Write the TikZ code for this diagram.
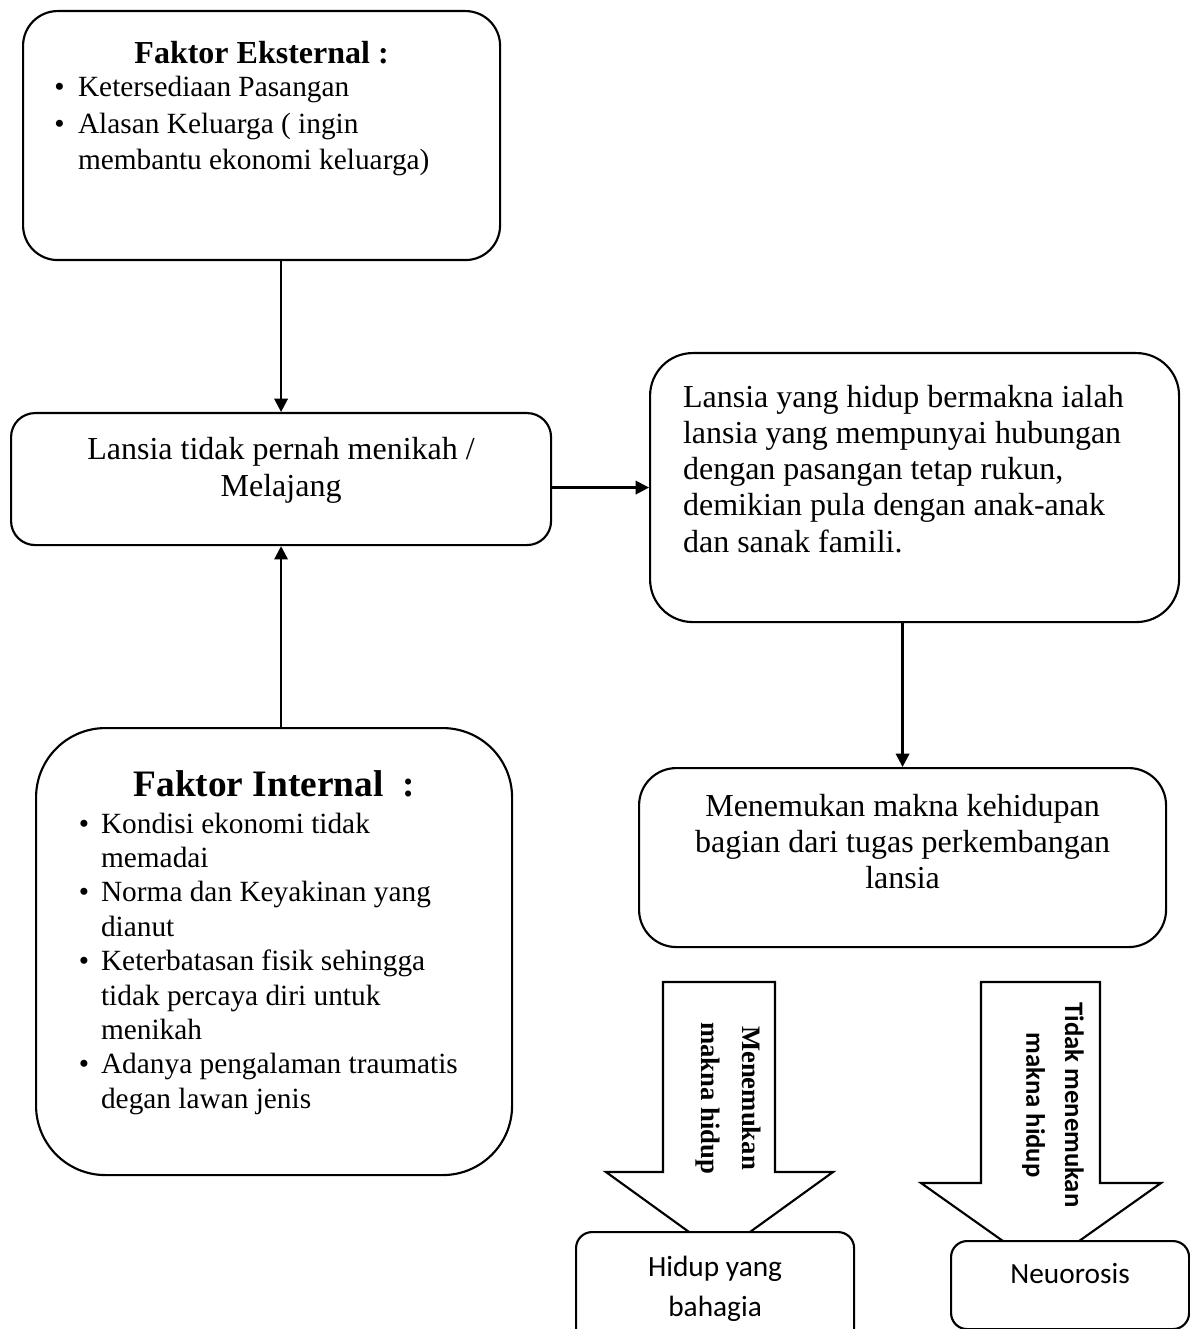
\documentclass[tikz,border=0pt]{standalone}
\usepackage{fontspec}
\setmainfont{Liberation Serif}
\setsansfont{Carlito}
\usetikzlibrary{arrows.meta, calc}
\newlength{\pxu}
\setlength{\pxu}{0.375pt}
\newcommand{\isi}[3]{\begin{minipage}[t][#2\pxu][t]{#1\pxu}#3\end{minipage}}
\newcommand{\atas}[1]{\rule{0pt}{#1\pxu}}
\newenvironment{daftar}[2]{\begin{list}{\textbullet}{%
  \setlength{\leftmargin}{#1\pxu}\setlength{\labelsep}{#2pt}%
  \setlength{\labelwidth}{\leftmargin}\addtolength{\labelwidth}{-\labelsep}%
  \setlength{\topsep}{0pt}\setlength{\partopsep}{0pt}%
  \setlength{\itemsep}{0pt}\setlength{\parsep}{0pt}\setlength{\rightmargin}{0pt}}}%
  {\end{list}}

\begin{document}
\begin{tikzpicture}[
  x=\pxu, y=-\pxu,
  kotak/.style={draw, line width=0.8pt, fill=white, inner sep=0pt, anchor=north west},
  panah/.style={-{Triangle[width=5pt, length=5pt]}, line width=0.9pt},
  blok/.style={draw, line width=0.8pt, fill=white, line join=miter},
  labelpanah/.style={rotate=-90, align=center, inner sep=0pt}
]
  \useasboundingbox (0,0) rectangle (1189,1329);
  \fill[white] (0,0) rectangle (1189,1329);

  \node[kotak, rounded corners=13pt] (ext) at (22,10) {\isi{477}{249}{%
    {\centering\fontsize{12}{13.8}\selectfont\bfseries\atas{52}Faktor Eksternal :\par}
    \vspace{-1pt}\raggedright\fontsize{11}{13.7}\selectfont
    \begin{daftar}{55}{5}
      \item Ketersediaan Pasangan
      \item Alasan Keluarga ( ingin\\ membantu ekonomi keluarga)
    \end{daftar}}};
  \node[kotak, rounded corners=9pt] (lajang) at (10,412) {\isi{540}{132}{%
    \centering\fontsize{12}{13.9}\selectfont\atas{46}Lansia tidak pernah menikah /\\ Melajang}};
  \node[kotak, rounded corners=26pt] (intern) at (35,727) {\isi{476}{447}{%
    {\centering\fontsize{14}{16}\selectfont\bfseries\atas{68}Faktor Internal \ :\par}
    \vspace{1pt}\raggedright\fontsize{11}{12.9}\selectfont
    \begin{daftar}{65}{4.5}
      \item Kondisi ekonomi tidak\\ memadai
      \item Norma dan Keyakinan yang\\ dianut
      \item Keterbatasan fisik sehingga\\ tidak percaya diri untuk\\ menikah
      \item Adanya pengalaman traumatis\\ degan lawan jenis
    \end{daftar}}};
  \node[kotak, rounded corners=16pt] (bermakna) at (649,352) {\isi{529}{269}{%
    \raggedright\leftskip=33\pxu\fontsize{12}{13.6}\selectfont\atas{54}Lansia yang hidup bermakna ialah\\ lansia yang mempunyai hubungan\\ dengan pasangan tetap rukun,\\ demikian pula dengan anak-anak\\ dan sanak famili.}};
  \node[kotak, rounded corners=14pt] (makna) at (638,767) {\isi{527}{179}{%
    \centering\fontsize{12}{13.5}\selectfont\atas{48}Menemukan makna kehidupan\\ bagian dari tugas perkembangan\\ lansia}};

  % panah blok ke bawah
  \draw[blok] (663,982) -- (775,982) -- (775,1172) -- (833,1172) -- (719.5,1254) -- (606,1172) -- (663,1172) -- cycle;
  \draw[blok] (981,982) -- (1100,982) -- (1100,1183) -- (1161,1183) -- (1041,1268) -- (921,1183) -- (981,1183) -- cycle;
  \node[labelpanah, font=\fontsize{10}{15.4}\selectfont\bfseries] (lbl1) at (728,1098) {Menemukan\\ makna hidup};
  \node[labelpanah, font=\fontsize{10}{14.6}\selectfont\sffamily\bfseries] (lbl2) at (1053,1105) {Tidak menemukan\\ makna hidup};

  \node[kotak, rounded corners=6pt] (bahagia) at (575,1231) {\isi{278}{120}{%
    \centering\fontsize{11}{15}\selectfont\sffamily\atas{44}Hidup yang\\ bahagia}};
  \node[kotak, rounded corners=6pt] (neurosis) at (950,1240) {\isi{238}{88}{%
    \centering\fontsize{11}{15}\selectfont\sffamily\atas{42}Neuorosis}};

  \draw[panah] (ext.south -| lajang.north) -- (lajang.north);
  \draw[panah] (intern.north -| lajang.south) -- (lajang.south);
  \draw[panah] (lajang.east |- bermakna.west) -- (bermakna.west);
  \draw[panah] (bermakna.south -| makna.north) -- (makna.north);
\end{tikzpicture}
\end{document}
